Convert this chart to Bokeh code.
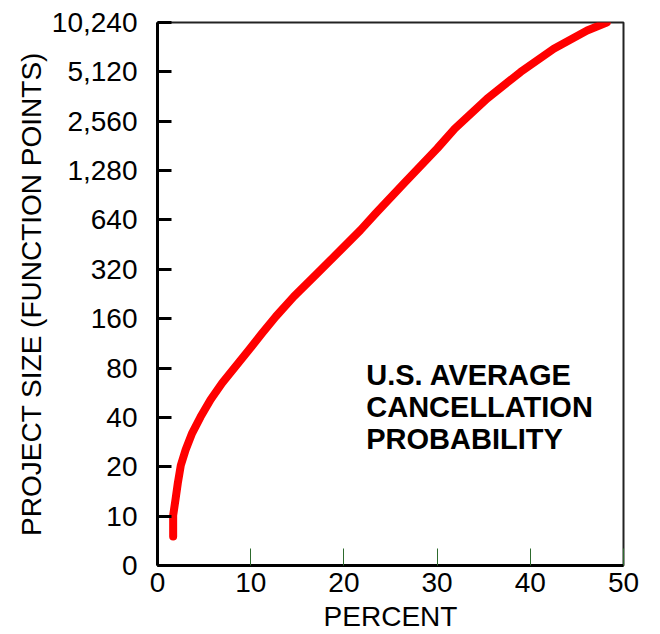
from bokeh.plotting import figure
from bokeh.models import FixedTicker, CustomJSTickFormatter, Label, ColumnDataSource
from bokeh.embed import file_html
from bokeh.resources import INLINE

# Data (percent cancelled vs. project size in function points)
percent = [1.68, 1.68, 1.93, 2.18, 2.5, 3.02, 3.72, 4.61, 5.69, 6.94, 8.37, 9.8,
           11.2, 12.7, 14.62, 17.14, 19.64, 21.78, 23.4, 26.43, 30.01, 31.9,
           35.37, 38.95, 42.52, 46.1, 48.2]
function_points = [7.5, 10.1, 12.6, 15.9, 20.4, 25.4, 32.1, 40.2, 51.2, 64.8, 81.7,
                   103, 130, 165, 218, 302, 419, 555, 701, 1068, 1745, 2309,
                   3517, 5107, 7087, 9158, 10240]

x_ticks = [0, 10, 20, 30, 40, 50]
y_ticks = [5, 10, 20, 40, 80, 160, 320, 640, 1280, 2560, 5120, 10240]  # 5 is drawn as "0"

x_title = "PERCENT"
y_title = "PROJECT SIZE (FUNCTION POINTS)"
annotation_lines = ["U.S. AVERAGE", "CANCELLATION", "PROBABILITY"]

FONT = "Liberation Sans"

p = figure(width=660, height=634, x_range=(0, 50), y_range=(5, 10240),
           y_axis_type="log", output_backend="svg", toolbar_location=None,
           min_border_left=157, min_border_right=37, min_border_top=22,
           min_border_bottom=68)
p.background_fill_color = "white"
p.border_fill_color = "white"
p.outline_line_color = "#222222"
p.outline_line_width = 2
p.xgrid.visible = False
p.ygrid.visible = False

src = ColumnDataSource(dict(x=percent, y=function_points))
p.line("x", "y", source=src, line_color="#ff0000", line_width=8, line_cap="round",
       line_join="round")

# X axis
xa = p.xaxis[0]
xa.ticker = FixedTicker(ticks=x_ticks, minor_ticks=[])
xa.major_tick_in = 17
xa.major_tick_out = 0
xa.major_tick_line_color = "#2d6a2d"
xa.major_tick_line_width = 1
xa.axis_line_color = "black"
xa.axis_line_width = 3
xa.major_label_text_font = FONT
xa.major_label_text_font_size = "28px"
xa.major_label_text_color = "black"
xa.major_label_standoff = 7
xa.axis_label = x_title
xa.axis_label_text_font = FONT
xa.axis_label_text_font_size = "28px"
xa.axis_label_text_font_style = "normal"
xa.axis_label_text_color = "black"
xa.axis_label_standoff = 6

# Y axis
ya = p.yaxis[0]
ya.ticker = FixedTicker(ticks=y_ticks, minor_ticks=[])
ya.formatter = CustomJSTickFormatter(code="""
    const v = Math.round(tick);
    if (v <= 5) { return "0"; }
    return v.toString().replace(/\\B(?=(\\d{3})+(?!\\d))/g, ",");
""")
ya.major_tick_in = 14
ya.major_tick_out = 0
ya.major_tick_line_color = "black"
ya.major_tick_line_width = 3
ya.axis_line_color = "black"
ya.axis_line_width = 3
ya.major_label_text_font = FONT
ya.major_label_text_font_size = "28px"
ya.major_label_text_color = "black"
ya.major_label_standoff = 20
ya.axis_label = y_title
ya.axis_label_text_font = FONT
ya.axis_label_text_font_size = "28px"
ya.axis_label_text_font_style = "normal"
ya.axis_label_text_color = "black"
ya.axis_label_standoff = 2

# Annotation
label_y = [72.6, 46.4, 29.6]
for txt, yy in zip(annotation_lines, label_y):
    p.add_layout(Label(x=22.4, y=yy, text=txt, text_font=FONT, text_font_style="bold",
                       text_font_size="29px", text_color="black",
                       text_baseline="alphabetic", text_align="left"))

open("out.html", "w").write(file_html(p, INLINE))
